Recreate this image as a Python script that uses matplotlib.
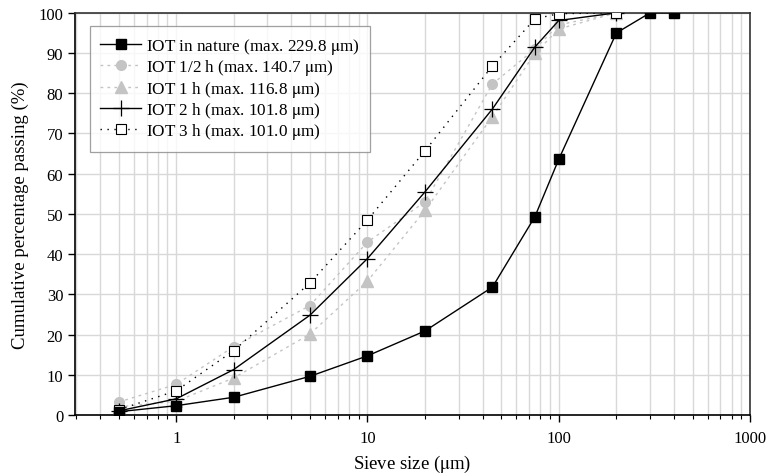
# Cumulative particle size distribution of IOT samples

import numpy as np
import matplotlib.pyplot as plt
from matplotlib.ticker import LogLocator, NullFormatter, FixedLocator

plt.rcParams['font.family'] = ['Liberation Serif', 'DejaVu Serif']
plt.rcParams['mathtext.fontset'] = 'stix'

# Sieve sizes (um)
sieve_nature = [0.5, 1, 2, 5, 10, 20, 45, 75, 100, 200, 300, 400]
sieve_milled = [0.5, 1, 2, 5, 10, 20, 45, 75, 100, 200]

# Cumulative percentage passing (%)
iot_nature = [0.8, 2.3, 4.4, 9.6, 14.7, 20.9, 31.8, 49.3, 63.6, 95.0, 100, 100]
iot_half_h = [3.2, 7.6, 17.0, 27.2, 43.0, 53.0, 82.3, 91.0, 97.0, 100]
iot_1h = [2.0, 3.4, 9.2, 20.1, 33.3, 50.9, 74.2, 89.9, 96.0, 100]
iot_2h = [1.0, 4.0, 11.3, 24.8, 38.9, 55.5, 76.1, 91.5, 98.1, 100]
iot_3h = [1.3, 6.0, 16.0, 32.8, 48.5, 65.7, 86.8, 98.5, 99.8, 100]

labels = [
    r'IOT in nature (max. 229.8 $\mathrm{\mu}$m)',
    r'IOT 1/2 h (max. 140.7 $\mathrm{\mu}$m)',
    r'IOT 1 h (max. 116.8 $\mathrm{\mu}$m)',
    r'IOT 2 h (max. 101.8 $\mathrm{\mu}$m)',
    r'IOT 3 h (max. 101.0 $\mathrm{\mu}$m)',
]

fig = plt.figure(figsize=(7.68, 4.77), dpi=100)
ax = fig.add_axes([0.0977, 0.128, 0.879, 0.843])

gray = '#c4c4c4'
ax.plot(sieve_nature, iot_nature, color='black', lw=1.0, marker='s', ms=6.5,
        mfc='black', mec='black', label=labels[0], zorder=5)
ax.plot(sieve_milled, iot_half_h, color=gray, lw=1.0, ls=(0, (2, 3)), marker='o',
        ms=7, mfc=gray, mec=gray, label=labels[1], zorder=3)
ax.plot(sieve_milled, iot_1h, color=gray, lw=1.0, ls=(0, (2, 3)), marker='^',
        ms=8, mfc=gray, mec=gray, label=labels[2], zorder=3)
ax.plot(sieve_milled, iot_2h, color='black', lw=1.0, marker='+', ms=11,
        mew=0.9, label=labels[3], zorder=4)
ax.plot(sieve_milled, iot_3h, color='black', lw=1.0, ls=(0, (1, 4)), marker='s',
        ms=7, mfc='white', mec='black', mew=0.8, label=labels[4], zorder=4)

ax.set_xscale('log')
ax.set_xlim(0.296, 1000)
ax.set_ylim(0, 100)
ax.xaxis.set_major_locator(FixedLocator([1, 10, 100, 1000]))
ax.set_xticklabels(['1', '10', '100', '1000'])
ax.xaxis.set_minor_locator(LogLocator(base=10, subs=np.arange(2, 10), numticks=20))
ax.xaxis.set_minor_formatter(NullFormatter())
ax.set_yticks(np.arange(0, 101, 10))

ax.grid(True, which='major', axis='both', color='#d8d8d8', lw=1.0)
ax.grid(True, which='minor', axis='x', color='#d8d8d8', lw=1.0)
ax.set_axisbelow(True)

ax.tick_params(axis='both', which='major', direction='out', length=5, width=1.0,
               labelsize=12, top=False, right=False)
ax.tick_params(axis='x', which='minor', direction='out', length=3, width=0.8)
ax.tick_params(axis='x', pad=6)

for s in ['left', 'bottom']:
    ax.spines[s].set_color('black')
    ax.spines[s].set_linewidth(1.2)
for s in ['top', 'right']:
    ax.spines[s].set_color('#333333')
    ax.spines[s].set_linewidth(1.2)

ax.set_xlabel(r'Sieve size ($\mathrm{\mu}$m)', fontsize=13.5, labelpad=5)
ax.set_ylabel('Cumulative percentage passing (%)', fontsize=13.5, labelpad=7)

leg = ax.legend(loc='upper left', bbox_to_anchor=(0.022, 0.968), borderaxespad=0,
                fontsize=12.3, frameon=True, fancybox=False, edgecolor='#888888',
                handlelength=2.4, handletextpad=0.3, labelspacing=0.08,
                borderpad=0.6)
leg.get_frame().set_linewidth(0.9)

plt.savefig('out.png', dpi=100)
